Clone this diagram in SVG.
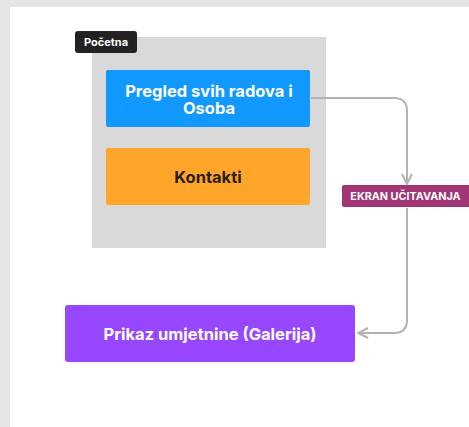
<svg xmlns="http://www.w3.org/2000/svg" width="469" height="427" viewBox="0 0 469 427">
<style>
.t{font-family:Inter,"Liberation Sans",sans-serif;font-weight:700;text-anchor:middle}
.conn{fill:none;stroke:#b3b3b3;stroke-width:2}
</style>
<defs>
<marker id="arr" viewBox="0 0 12 12" refX="11" refY="6" markerWidth="12" markerHeight="12" markerUnits="userSpaceOnUse" orient="auto">
<path d="M1,1 L11,6 L1,11" fill="none" stroke="#b3b3b3" stroke-width="2"/>
</marker>
</defs>
<rect x="0" y="0" width="469" height="427" fill="#e5e5e5"/>
<rect x="10" y="7" width="459" height="420" fill="#ffffff"/>
<g id="pocetna">
<rect x="92" y="37" width="234" height="211" fill="#d9d9d9"/>
<rect x="75" y="31" width="62" height="22" rx="3" fill="#222222"/>
<text class="t" x="106" y="46" font-size="11" fill="#ffffff" font-weight="600">Početna</text>
</g>
<g id="pregled">
<rect x="106" y="70" width="204" height="57" rx="2" fill="#1199ff"/>
<text class="t" font-size="16.5" fill="#ffffff"><tspan x="209" y="96.5">Pregled svih radova i</tspan><tspan x="209" y="114">Osoba</tspan></text>
</g>
<g id="kontakti">
<rect x="106" y="148" width="204" height="57" rx="2" fill="#ffa52a"/>
<text class="t" x="208" y="183" font-size="16.5" fill="#2a1d0a">Kontakti</text>
</g>
<g id="prikaz">
<rect x="65" y="305" width="290" height="57" rx="3" fill="#9747ff"/>
<text class="t" x="210" y="340" font-size="16.5" fill="#ffffff">Prikaz umjetnine (Galerija)</text>
</g>
<g id="connectors">
<path class="conn" d="M311,98 H394 Q407,98 407,111 V184" marker-end="url(#arr)"/>
<path class="conn" d="M407,208 V320 Q407,333 394,333 H358" marker-end="url(#arr)"/>
</g>
<g id="ekran">
<rect x="342" y="185" width="130" height="22" rx="2" fill="#a23675"/>
<text class="t" x="405.5" y="200" font-size="10.8" fill="#ffffff">EKRAN UČITAVANJA</text>
</g>
</svg>
